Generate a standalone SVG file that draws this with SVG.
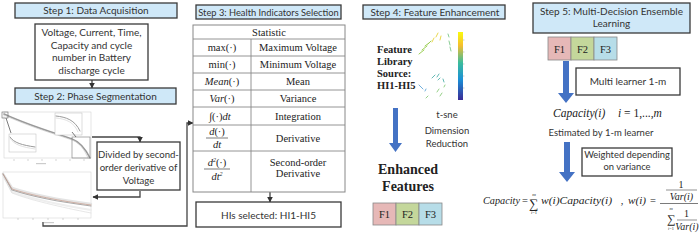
<svg xmlns="http://www.w3.org/2000/svg" width="700" height="233" viewBox="0 0 700 233">
<defs>
<style>
.hdr{fill:#cfe8f8;stroke:#3a3a3a;stroke-width:1.3}
.box{fill:#fff;stroke:#3a3a3a;stroke-width:1.3}
.sans{font-family:Lato,"Open Sans","Noto Sans",sans-serif;fill:#333;text-anchor:middle}
.h{font-size:10px}
.b{font-size:10px}
.ser{font-family:"Liberation Serif","Times New Roman",serif;fill:#222;text-anchor:middle}
.it{font-style:italic}
.bold{font-weight:bold}
.conn{fill:none;stroke:#444;stroke-width:1.3}
.tl{stroke:#888;stroke-width:0.9;fill:none}
.fb{stroke:#888;stroke-width:0.8}
.blue{fill:#4472c4}
.pl{fill:none;stroke-linecap:round}
</style>
<marker id="ah" viewBox="0 0 10 10" refX="9" refY="5" markerWidth="4.5" markerHeight="4.5" orient="auto">
<path d="M0,0 L10,5 L0,10 z" fill="#333"/>
</marker>
<linearGradient id="cb" x1="0" y1="0" x2="0" y2="1">
<stop offset="0" stop-color="#f9fb0e"/>
<stop offset="0.2" stop-color="#f5be2f"/>
<stop offset="0.45" stop-color="#3cbc9c"/>
<stop offset="0.7" stop-color="#1b8fd6"/>
<stop offset="1" stop-color="#3b2b96"/>
</linearGradient>
</defs>

<g id="connectors">
<line class="conn" x1="92" y1="80" x2="92" y2="88" marker-end="url(#ah)"/>
<polyline class="conn" points="92,137 140,137 140,142" marker-end="url(#ah)"/>
<polyline class="conn" points="140,191 140,197 93,197" marker-end="url(#ah)"/>
<polyline class="conn" points="43,222 43,226 187,226 187,123 193,123" marker-end="url(#ah)"/>
<line class="conn" x1="270" y1="192" x2="270" y2="202" marker-end="url(#ah)"/>
</g>

<g id="step1">
<rect class="hdr" x="15" y="3" width="162" height="15"/>
<text class="sans h" x="96" y="14">Step 1: Data Acquisition</text>
</g>
<g id="data-box">
<rect class="box" x="35" y="24" width="113" height="56"/>
<text class="sans b" x="91.5" y="36">Voltage, Current, Time,</text>
<text class="sans b" x="91.5" y="48.5">Capacity and cycle</text>
<text class="sans b" x="91.5" y="61">number in Battery</text>
<text class="sans b" x="91.5" y="73.5">discharge cycle</text>
</g>
<g id="step2">
<rect class="hdr" x="15" y="88" width="161" height="16"/>
<text class="sans h" x="95.5" y="99.5">Step 2: Phase Segmentation</text>
</g>

<g id="plot1">
<rect x="4" y="112" width="87" height="46" fill="#fff" stroke="#d4d4d4" stroke-width="0.6"/>
<path class="pl" d="M4,114 C30,126 58,134 72,139 C80,142 85,148 90,158" stroke="#999" stroke-width="1.6"/>
<path class="pl" d="M4,115 C30,127 58,135 72,140 C80,143 84,149 88,158" stroke="#ccc" stroke-width="0.7"/>
<rect x="2" y="112" width="6" height="6" fill="none" stroke="#666" stroke-width="0.6"/>
<line x1="6" y1="118" x2="11" y2="133" stroke="#444" stroke-width="0.7"/>
<rect x="9" y="134" width="27" height="18" fill="#fff" stroke="#bbb" stroke-width="0.5"/>
<path class="pl" d="M10,137 C14,143 22,145 35,147" stroke="#999" stroke-width="1"/>
<path class="pl" d="M10,138 C14,145 22,147 35,149" stroke="#ccc" stroke-width="0.6"/>
<rect x="55" y="113" width="27" height="22" fill="#fff" stroke="#bbb" stroke-width="0.5"/>
<path class="pl" d="M56,116 C66,117 75,120 80,131" stroke="#999" stroke-width="1"/>
<path class="pl" d="M56,118 C66,119 74,122 78,132" stroke="#ccc" stroke-width="0.6"/>
<rect x="72" y="137" width="18" height="21" fill="none" stroke="#777" stroke-width="0.6"/>
<line x1="76" y1="137" x2="72" y2="132" stroke="#444" stroke-width="0.7"/>
<path d="M14,159v2M28,159v2M42,159v2M56,159v2M70,159v2M84,159v2" stroke="#bbb" stroke-width="0.6"/>
<rect x="36" y="163" width="10" height="1.2" fill="#ccc"/>
</g>

<g id="plot2">
<rect x="3" y="172" width="88" height="46" fill="#fff" stroke="#d8d8d8" stroke-width="0.6"/>
<path class="pl" d="M3,174 L12,188 C30,194 60,200 91,204" stroke="#e4e4e4" stroke-width="2.5"/>
<path class="pl" d="M3,175 L12,192 C30,198 60,205 91,210" stroke="#eee" stroke-width="2"/>
<path class="pl" d="M3,174 L12,190 C30,196 60,202 91,206" stroke="#aaa" stroke-width="1.2"/>
<path class="pl" d="M3,174 L12,189 C30,195 60,201 91,205" stroke="#c49a8a" stroke-width="0.7"/>
<path class="pl" d="M3,176 L12,193 C30,200 60,207 91,213" stroke="#ddd" stroke-width="0.7"/>
<path d="M18,218v2M33,218v2M48,218v2M63,218v2M78,218v2" stroke="#bbb" stroke-width="0.6"/>
<rect x="44" y="222" width="10" height="1.2" fill="#ccc"/>
</g>

<g id="divide-box">
<rect class="box" x="97" y="142" width="83" height="48"/>
<text class="sans" font-size="9.6" x="138.5" y="158">Divided by second-</text>
<text class="sans" font-size="9.6" x="138.5" y="171">order derivative of</text>
<text class="sans" font-size="9.6" x="138.5" y="184">Voltage</text>
</g>

<g id="step3">
<rect class="hdr" x="196" y="5" width="145" height="14"/>
<text class="sans" font-size="9.3" x="268.5" y="15.5">Step 3: Health Indicators Selection</text>
</g>
<g id="table">
<rect x="193" y="25" width="152" height="167" fill="#fff" stroke="#888" stroke-width="1"/>
<path class="tl" d="M193,39H345M193,56H345M193,73H345M193,90H345M193,107H345M193,125H345M193,151H345M251,39V192"/>
<g class="ser" font-size="10.5">
<text x="269" y="36">Statistic</text>
<text x="222" y="51">max(·)</text>
<text x="298" y="51">Maximum Voltage</text>
<text x="222" y="68">min(·)</text>
<text x="298" y="68">Minimum Voltage</text>
<text x="222" y="85"><tspan class="it">Mean</tspan>(·)</text>
<text x="298" y="85">Mean</text>
<text x="222" y="102"><tspan class="it">Var</tspan>(·)</text>
<text x="298" y="102">Variance</text>
<text x="220" y="120">∫(·)<tspan class="it">dt</tspan></text>
<text x="298" y="120">Integration</text>
<text x="217" y="135" class="it">d<tspan font-style="normal">(·)</tspan></text>
<text x="217" y="148" class="it">dt</text>
<text x="298" y="142">Derivative</text>
<text x="217" y="166" class="it">d<tspan font-size="6" dy="-4">2</tspan><tspan font-style="normal" dy="4">(·)</tspan></text>
<text x="217" y="180" class="it">dt<tspan font-size="6" dy="-4">2</tspan></text>
<text x="298" y="166">Second-order</text>
<text x="298" y="177">Derivative</text>
</g>
<line x1="206" y1="138" x2="228" y2="138" stroke="#222" stroke-width="0.6"/>
<line x1="204" y1="169" x2="230" y2="169" stroke="#222" stroke-width="0.6"/>
</g>
<g id="his-box">
<rect class="box" x="196" y="202" width="145" height="25"/>
<text class="sans b" x="268.5" y="218.5">HIs selected: HI1-HI5</text>
</g>

<g id="step4">
<rect class="hdr" x="363" y="5" width="142" height="14"/>
<text class="sans h" x="435" y="15.5">Step 4: Feature Enhancement</text>
</g>
<g id="feature-library">
<g class="ser bold" font-size="10.5" style="text-anchor:start">
<text x="377" y="53">Feature</text>
<text x="377" y="65">Library</text>
<text x="377" y="77">Source:</text>
<text x="377" y="89">HI1-HI5</text>
</g>
<g id="scatter">
<path class="pl" d="M419,54 L424,50 M422,50 L427,46 M425,46 L429,43 M428,44 L431,41" stroke="#9ccf55" stroke-width="1"/>
<path class="pl" d="M432,42 L434,38 M436,37 L438,33 M440,40 L441,36" stroke="#e6d43a" stroke-width="0.9"/>
<path class="pl" d="M448,34 L449,37 M449,41 L450,45 M450,47 L451,51" stroke="#6cc07a" stroke-width="0.8"/>
<path class="pl" d="M432,78 L435,75 M437,77 L439,74 M438,80 L440,78 M443,79 L444,82" stroke="#3aa6a0" stroke-width="0.8"/>
<path class="pl" d="M419,85 L423,89 M425,91 L426,89" stroke="#4d9bd3" stroke-width="0.8"/>
<path class="pl" d="M437,92 L439,89 M440,96 L442,93 M426,98 L428,96 M444,87 L445,85" stroke="#7bc46a" stroke-width="0.8"/>
<rect x="458" y="32" width="5" height="68" fill="url(#cb)"/>
<path d="M463,40h1.5M463,52h1.5M463,64h1.5M463,76h1.5M463,88h1.5" stroke="#999" stroke-width="0.5"/>
</g>
</g>
<g id="tsne-arrow">
<path class="blue" d="M393,108 H398 V143 H402 L395.5,152 L389,143 H393 Z"/>
<text class="sans" font-size="9.5" x="447" y="118">t-sne</text>
<text class="sans" font-size="9.5" x="447" y="134">Dimension</text>
<text class="sans" font-size="9.5" x="447" y="147">Reduction</text>
</g>
<g id="enhanced">
<text class="ser bold" font-size="14" x="408" y="174">Enhanced</text>
<text class="ser bold" font-size="14" x="408" y="191">Features</text>
</g>
<g id="f-boxes-4">
<rect class="fb" x="373" y="203" width="23" height="22" fill="#e6b8b7"/>
<rect class="fb" x="396" y="203" width="23" height="22" fill="#c4d79b"/>
<rect class="fb" x="419" y="203" width="23" height="22" fill="#b7dde8"/>
<text class="ser" font-size="10.5" x="384.5" y="218">F1</text>
<text class="ser" font-size="10.5" x="407.5" y="218">F2</text>
<text class="ser" font-size="10.5" x="430.5" y="218">F3</text>
</g>

<g id="step5">
<rect class="hdr" x="533" y="3" width="157" height="30"/>
<text class="sans h" x="611.5" y="15">Step 5: Multi-Decision Ensemble</text>
<text class="sans h" x="611.5" y="27">Learning</text>
</g>
<g id="f-boxes-5">
<rect class="fb" x="548" y="37" width="23" height="23" fill="#e6b8b7"/>
<rect class="fb" x="571" y="37" width="23" height="23" fill="#c4d79b"/>
<rect class="fb" x="594" y="37" width="23" height="23" fill="#b7dde8"/>
<text class="ser" font-size="10.5" x="559.5" y="52.5">F1</text>
<text class="ser" font-size="10.5" x="582.5" y="52.5">F2</text>
<text class="ser" font-size="10.5" x="605.5" y="52.5">F3</text>
</g>
<g id="arrow5a">
<path class="blue" d="M563,61 H569 V93 H574 L566,103 L558,93 H563 Z"/>
</g>
<g id="multi-learner">
<rect class="box" x="576" y="68" width="104" height="27"/>
<text class="sans b" x="628" y="85">Multi learner 1-m</text>
</g>
<g id="capacity-i">
<text class="ser it" font-size="11.5" x="553" y="117" style="text-anchor:start">Capacity(i)</text>
<text class="ser" font-size="11.5" x="618" y="117" style="text-anchor:start"><tspan class="it">i</tspan> = 1,...,<tspan class="it">m</tspan></text>
<text class="sans" font-size="9.5" x="601" y="136">Estimated by 1-m learner</text>
</g>
<g id="arrow5b">
<path class="blue" d="M564,142 H570 V172 H575 L567,182 L559,172 H564 Z"/>
</g>
<g id="weighted-box">
<rect class="box" x="582" y="148" width="90" height="28"/>
<text class="sans" font-size="9.4" x="627" y="158">Weighted depending</text>
<text class="sans" font-size="9.4" x="627" y="170">on variance</text>
</g>
<g id="formula" class="ser">
<text class="it" font-size="10.5" x="483" y="204" textLength="37" lengthAdjust="spacingAndGlyphs" style="text-anchor:start">Capacity</text>
<text font-size="10.5" x="525" y="204">=</text>
<text font-size="13" x="534" y="208">∑</text>
<text class="it" font-size="5" x="534" y="196">m</text>
<text font-size="4.5" x="534" y="214"><tspan class="it">i</tspan>=1</text>
<text class="it" font-size="10.5" x="541" y="204" textLength="71" lengthAdjust="spacingAndGlyphs" style="text-anchor:start">w(i)Capacity(i)</text>
<text font-size="10.5" x="622" y="204">,</text>
<text class="it" font-size="10.5" x="628" y="204" textLength="18" lengthAdjust="spacingAndGlyphs" style="text-anchor:start">w(i)</text>
<text font-size="10.5" x="653" y="204">=</text>
<line x1="660" y1="203.5" x2="698" y2="203.5" stroke="#222" stroke-width="0.6"/>
<text font-size="10" x="681" y="188">1</text>
<line x1="666" y1="190" x2="697" y2="190" stroke="#222" stroke-width="0.5"/>
<text class="it" font-size="10" x="681.5" y="200">Var(i)</text>
<text font-size="12" x="671" y="223">∑</text>
<text class="it" font-size="4.5" x="671" y="210">m</text>
<text font-size="4.3" x="671" y="230"><tspan class="it">i</tspan>=1</text>
<text font-size="10" x="686.5" y="217">1</text>
<line x1="677" y1="220" x2="697" y2="220" stroke="#222" stroke-width="0.5"/>
<text class="it" font-size="10" x="687" y="230">Var(i)</text>
</g>
</svg>
